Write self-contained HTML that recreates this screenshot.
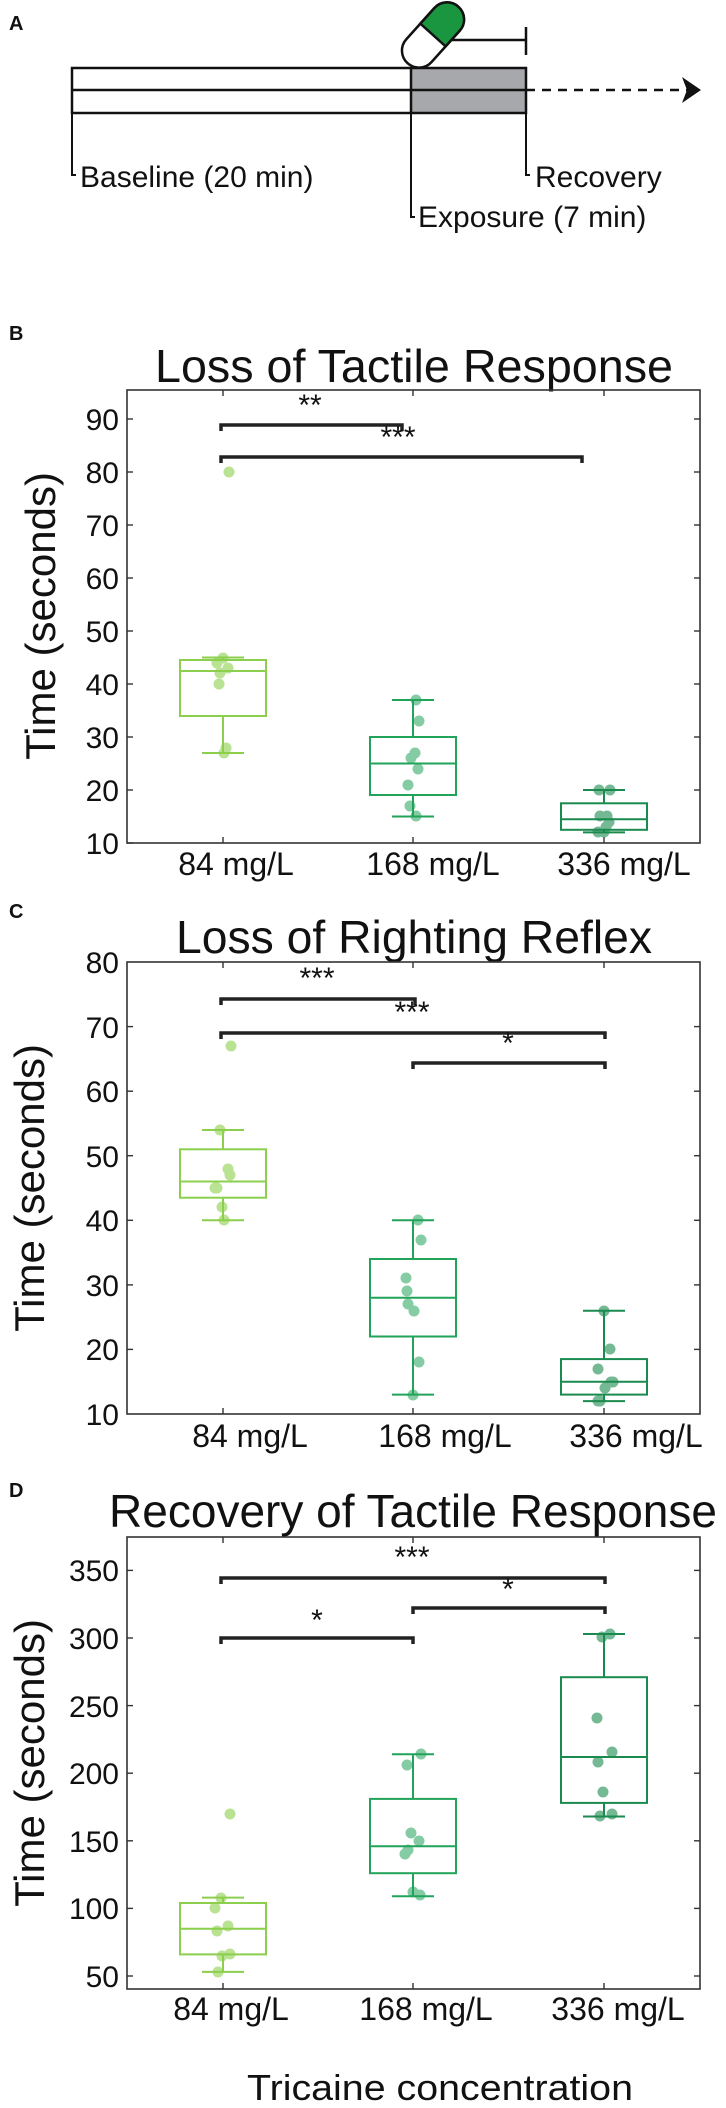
<!DOCTYPE html>
<html><head><meta charset="utf-8"><style>
html,body{margin:0;padding:0;background:#fff}
svg{display:block}
text{font-family:"Liberation Sans",Arial,sans-serif;fill:#111}
.ax{fill:none;stroke:#333;stroke-width:1.6}
.tk{stroke:#333;stroke-width:1.4}
.tl{font-size:30px;text-anchor:end}
.xl{font-size:32px;text-anchor:middle}
.ttl{font-size:46px;text-anchor:middle}
.yl{font-size:42px;text-anchor:middle}
.pl{font-size:20px;font-weight:bold}
.st{font-size:30px;text-anchor:middle}
.br{fill:none;stroke:#222;stroke-width:3.5}
.b1{fill:none;stroke:#8ccf4d;stroke-width:2}
.b2{fill:none;stroke:#22a35a;stroke-width:2}
.b3{fill:none;stroke:#1b8a4e;stroke-width:2}
.p1{fill:#8ccf4d;opacity:.6}
.p2{fill:#22a35a;opacity:.55}
.p3{fill:#1b8a4e;opacity:.6}
</style></head><body>
<svg width="726" height="2108" viewBox="0 0 726 2108" xmlns="http://www.w3.org/2000/svg">
<!-- Panel A -->
<text class="pl" x="9" y="30">A</text>
<rect x="411" y="68" width="115" height="45" fill="#a7a8ab"/>
<g stroke="#111" stroke-width="2.5" fill="none">
<rect x="72" y="68" width="454" height="45"/>
<line x1="72" y1="90" x2="526" y2="90"/>
<line x1="411" y1="68" x2="411" y2="113"/>
<line x1="526" y1="90" x2="690" y2="90" stroke-dasharray="9,7"/>
<polyline points="72,113 72,175 76,175" stroke-width="2"/>
<polyline points="411,113 411,217 415,217" stroke-width="2"/>
<polyline points="526,113 526,175 530,175" stroke-width="2"/>
<line x1="448" y1="40" x2="526" y2="40"/>
<line x1="526" y1="27" x2="526" y2="55"/>
</g>
<polygon points="701,90 682,77 687,90 682,103" fill="#111"/>
<g transform="translate(433,35) rotate(42)">
<rect x="-17" y="-38" width="34" height="76" rx="17" fill="#fff" stroke="#111" stroke-width="2.5"/>
<path d="M-17,0 L-17,-21 A17,17 0 0 1 17,-21 L17,0 Z" fill="#1a9641" stroke="#111" stroke-width="2.5"/>
</g>
<text x="80" y="187" style="font-size:30px">Baseline (20 min)</text>
<text x="535" y="187" style="font-size:30px">Recovery</text>
<text x="418" y="227" style="font-size:30px">Exposure (7 min)</text>

<!-- Panel B -->
<text class="pl" x="9" y="340">B</text>
<text class="ttl" x="414" y="382" textLength="518" lengthAdjust="spacingAndGlyphs">Loss of Tactile Response</text>
<rect class="ax" x="127" y="390" width="573" height="453"/>
<g class="tk">
<line x1="127" y1="843" x2="133" y2="843"/><line x1="127" y1="790" x2="133" y2="790"/><line x1="127" y1="737" x2="133" y2="737"/><line x1="127" y1="684" x2="133" y2="684"/><line x1="127" y1="631" x2="133" y2="631"/><line x1="127" y1="578" x2="133" y2="578"/><line x1="127" y1="525" x2="133" y2="525"/><line x1="127" y1="472" x2="133" y2="472"/><line x1="127" y1="419" x2="133" y2="419"/>
<line x1="694" y1="790" x2="700" y2="790"/><line x1="694" y1="737" x2="700" y2="737"/><line x1="694" y1="684" x2="700" y2="684"/><line x1="694" y1="631" x2="700" y2="631"/><line x1="694" y1="578" x2="700" y2="578"/><line x1="694" y1="525" x2="700" y2="525"/><line x1="694" y1="472" x2="700" y2="472"/><line x1="694" y1="419" x2="700" y2="419"/>
<line x1="223" y1="390" x2="223" y2="396"/><line x1="413" y1="390" x2="413" y2="396"/><line x1="604" y1="390" x2="604" y2="396"/>
<line x1="223" y1="843" x2="223" y2="837"/><line x1="413" y1="843" x2="413" y2="837"/><line x1="604" y1="843" x2="604" y2="837"/>
</g>
<g class="tl"><text x="119" y="854">10</text><text x="119" y="801">20</text><text x="119" y="748">30</text><text x="119" y="695">40</text><text x="119" y="642">50</text><text x="119" y="589">60</text><text x="119" y="536">70</text><text x="119" y="483">80</text><text x="119" y="430">90</text></g>
<g class="xl"><text x="236" y="875">84 mg/L</text><text x="433" y="875">168 mg/L</text><text x="624" y="875">336 mg/L</text></g>
<text class="yl" transform="translate(55,616) rotate(-90)">Time (seconds)</text>
<polyline class="br" points="221,431 221,425 402,425 402,431"/>
<polyline class="br" points="221,463 221,457 582,457 582,463"/>
<text class="st" x="310" y="415">**</text><text class="st" x="398" y="447">***</text>
<g class="b1"><rect x="180" y="660" width="86" height="56"/><line x1="180" y1="671" x2="266" y2="671"/><line x1="223" y1="716" x2="223" y2="753"/><line x1="202" y1="753" x2="244" y2="753"/><line x1="223" y1="660" x2="223" y2="657.5"/><line x1="202" y1="657.5" x2="244" y2="657.5"/></g>
<g class="p1"><circle cx="229" cy="472" r="5.5"/><circle cx="223" cy="658" r="5.5"/><circle cx="217" cy="663" r="5.5"/><circle cx="228" cy="668" r="5.5"/><circle cx="220" cy="673" r="5.5"/><circle cx="219" cy="684" r="5.5"/><circle cx="226" cy="748" r="5.5"/><circle cx="224" cy="753" r="5.5"/></g>
<g class="b2"><rect x="370" y="737" width="86" height="58"/><line x1="370" y1="763.5" x2="456" y2="763.5"/><line x1="413" y1="795" x2="413" y2="816.5"/><line x1="392" y1="816.5" x2="434" y2="816.5"/><line x1="413" y1="737" x2="413" y2="700"/><line x1="392" y1="700" x2="434" y2="700"/></g>
<g class="p2"><circle cx="416" cy="700" r="5.5"/><circle cx="419" cy="721" r="5.5"/><circle cx="415" cy="753" r="5.5"/><circle cx="411" cy="758" r="5.5"/><circle cx="418" cy="769" r="5.5"/><circle cx="408" cy="785" r="5.5"/><circle cx="410" cy="806" r="5.5"/><circle cx="416" cy="816" r="5.5"/></g>
<g class="b3"><rect x="561" y="803.3" width="86" height="26.5"/><line x1="561" y1="819.2" x2="647" y2="819.2"/><line x1="604" y1="829.8" x2="604" y2="832.4"/><line x1="583" y1="832.4" x2="625" y2="832.4"/><line x1="604" y1="803.3" x2="604" y2="790"/><line x1="583" y1="790" x2="625" y2="790"/></g>
<g class="p3"><circle cx="599" cy="790" r="5.5"/><circle cx="610" cy="790" r="5.5"/><circle cx="600" cy="816" r="5.5"/><circle cx="607" cy="816" r="5.5"/><circle cx="609" cy="822" r="5.5"/><circle cx="598" cy="832" r="5.5"/><circle cx="604" cy="832" r="5.5"/><circle cx="606" cy="827" r="5.5"/></g>

<!-- Panel C -->
<text class="pl" x="9" y="918">C</text>
<text class="ttl" x="414" y="953" textLength="476" lengthAdjust="spacingAndGlyphs">Loss of Righting Reflex</text>
<rect class="ax" x="127" y="962" width="573" height="452"/>
<g class="tk">
<line x1="127" y1="1349.4" x2="133" y2="1349.4"/><line x1="127" y1="1284.9" x2="133" y2="1284.9"/><line x1="127" y1="1220.3" x2="133" y2="1220.3"/><line x1="127" y1="1155.7" x2="133" y2="1155.7"/><line x1="127" y1="1091.2" x2="133" y2="1091.2"/><line x1="127" y1="1026.6" x2="133" y2="1026.6"/>
<line x1="694" y1="1349.4" x2="700" y2="1349.4"/><line x1="694" y1="1284.9" x2="700" y2="1284.9"/><line x1="694" y1="1220.3" x2="700" y2="1220.3"/><line x1="694" y1="1155.7" x2="700" y2="1155.7"/><line x1="694" y1="1091.2" x2="700" y2="1091.2"/><line x1="694" y1="1026.6" x2="700" y2="1026.6"/>
<line x1="223" y1="962" x2="223" y2="968"/><line x1="413" y1="962" x2="413" y2="968"/><line x1="604" y1="962" x2="604" y2="968"/>
<line x1="223" y1="1414" x2="223" y2="1408"/><line x1="413" y1="1414" x2="413" y2="1408"/><line x1="604" y1="1414" x2="604" y2="1408"/>
</g>
<g class="tl"><text x="119" y="1425">10</text><text x="119" y="1360">20</text><text x="119" y="1296">30</text><text x="119" y="1231">40</text><text x="119" y="1167">50</text><text x="119" y="1102">60</text><text x="119" y="1038">70</text><text x="119" y="973">80</text></g>
<g class="xl"><text x="250" y="1447">84 mg/L</text><text x="445" y="1447">168 mg/L</text><text x="636" y="1447">336 mg/L</text></g>
<text class="yl" transform="translate(44,1188) rotate(-90)">Time (seconds)</text>
<polyline class="br" points="221,1005 221,999 415,999 415,1005"/>
<polyline class="br" points="221,1039 221,1033 605,1033 605,1039"/>
<polyline class="br" points="413,1069 413,1063 605,1063 605,1069"/>
<text class="st" x="317" y="988">***</text><text class="st" x="412" y="1022">***</text><text class="st" x="508" y="1053">*</text>
<g class="b1"><rect x="180" y="1149.3" width="86" height="48.4"/><line x1="180" y1="1181.5" x2="266" y2="1181.5"/><line x1="223" y1="1197.7" x2="223" y2="1220.3"/><line x1="202" y1="1220.3" x2="244" y2="1220.3"/><line x1="223" y1="1149.3" x2="223" y2="1130"/><line x1="202" y1="1130" x2="244" y2="1130"/></g>
<g class="p1"><circle cx="231" cy="1046" r="5.5"/><circle cx="220" cy="1130" r="5.5"/><circle cx="228" cy="1169" r="5.5"/><circle cx="230" cy="1175" r="5.5"/><circle cx="215" cy="1188" r="5.5"/><circle cx="217" cy="1188" r="5.5"/><circle cx="222" cy="1207" r="5.5"/><circle cx="224" cy="1220" r="5.5"/></g>
<g class="b2"><rect x="370" y="1259" width="86" height="77.5"/><line x1="370" y1="1297.8" x2="456" y2="1297.8"/><line x1="413" y1="1336.5" x2="413" y2="1394.6"/><line x1="392" y1="1394.6" x2="434" y2="1394.6"/><line x1="413" y1="1259" x2="413" y2="1220.3"/><line x1="392" y1="1220.3" x2="434" y2="1220.3"/></g>
<g class="p2"><circle cx="418" cy="1220" r="5.5"/><circle cx="421" cy="1240" r="5.5"/><circle cx="406" cy="1278" r="5.5"/><circle cx="407" cy="1291" r="5.5"/><circle cx="408" cy="1304" r="5.5"/><circle cx="414" cy="1311" r="5.5"/><circle cx="419" cy="1362" r="5.5"/><circle cx="413" cy="1395" r="5.5"/></g>
<g class="b3"><rect x="561" y="1359.1" width="86" height="35.5"/><line x1="561" y1="1381.7" x2="647" y2="1381.7"/><line x1="604" y1="1394.6" x2="604" y2="1401.1"/><line x1="583" y1="1401.1" x2="625" y2="1401.1"/><line x1="604" y1="1359.1" x2="604" y2="1310.7"/><line x1="583" y1="1310.7" x2="625" y2="1310.7"/></g>
<g class="p3"><circle cx="604" cy="1311" r="5.5"/><circle cx="610" cy="1349" r="5.5"/><circle cx="598" cy="1369" r="5.5"/><circle cx="611" cy="1382" r="5.5"/><circle cx="613" cy="1382" r="5.5"/><circle cx="605" cy="1388" r="5.5"/><circle cx="598" cy="1401" r="5.5"/><circle cx="600" cy="1401" r="5.5"/></g>

<!-- Panel D -->
<text class="pl" x="9" y="1497">D</text>
<text class="ttl" x="413" y="1527" textLength="608" lengthAdjust="spacingAndGlyphs">Recovery of Tactile Response</text>
<rect class="ax" x="127" y="1537" width="573" height="452"/>
<g class="tk">
<line x1="127" y1="1976" x2="133" y2="1976"/><line x1="127" y1="1908.4" x2="133" y2="1908.4"/><line x1="127" y1="1840.8" x2="133" y2="1840.8"/><line x1="127" y1="1773.2" x2="133" y2="1773.2"/><line x1="127" y1="1705.6" x2="133" y2="1705.6"/><line x1="127" y1="1638" x2="133" y2="1638"/><line x1="127" y1="1570.4" x2="133" y2="1570.4"/>
<line x1="694" y1="1976" x2="700" y2="1976"/><line x1="694" y1="1908.4" x2="700" y2="1908.4"/><line x1="694" y1="1840.8" x2="700" y2="1840.8"/><line x1="694" y1="1773.2" x2="700" y2="1773.2"/><line x1="694" y1="1705.6" x2="700" y2="1705.6"/><line x1="694" y1="1638" x2="700" y2="1638"/><line x1="694" y1="1570.4" x2="700" y2="1570.4"/>
<line x1="223" y1="1537" x2="223" y2="1543"/><line x1="413" y1="1537" x2="413" y2="1543"/><line x1="604" y1="1537" x2="604" y2="1543"/>
<line x1="223" y1="1989" x2="223" y2="1983"/><line x1="413" y1="1989" x2="413" y2="1983"/><line x1="604" y1="1989" x2="604" y2="1983"/>
</g>
<g class="tl"><text x="119" y="1987">50</text><text x="119" y="1919">100</text><text x="119" y="1852">150</text><text x="119" y="1784">200</text><text x="119" y="1717">250</text><text x="119" y="1649">300</text><text x="119" y="1581">350</text></g>
<g class="xl"><text x="231" y="2020">84 mg/L</text><text x="426" y="2020">168 mg/L</text><text x="618" y="2020">336 mg/L</text></g>
<text class="yl" transform="translate(44,1763) rotate(-90)">Time (seconds)</text>
<text x="440" y="2100" style="font-size:36px;text-anchor:middle" textLength="386" lengthAdjust="spacingAndGlyphs">Tricaine concentration</text>
<polyline class="br" points="221,1584 221,1578 605,1578 605,1584"/>
<polyline class="br" points="413,1614 413,1608 605,1608 605,1614"/>
<polyline class="br" points="221,1644 221,1638 413,1638 413,1644"/>
<text class="st" x="412" y="1567">***</text><text class="st" x="508" y="1599">*</text><text class="st" x="317" y="1630">*</text>
<g class="b1"><rect x="180" y="1903" width="86" height="51.4"/><line x1="180" y1="1928.7" x2="266" y2="1928.7"/><line x1="223" y1="1954.4" x2="223" y2="1971.9"/><line x1="202" y1="1971.9" x2="244" y2="1971.9"/><line x1="223" y1="1903" x2="223" y2="1897.6"/><line x1="202" y1="1897.6" x2="244" y2="1897.6"/></g>
<g class="p1"><circle cx="230" cy="1814" r="5.5"/><circle cx="221" cy="1898" r="5.5"/><circle cx="215" cy="1908" r="5.5"/><circle cx="228" cy="1926" r="5.5"/><circle cx="217" cy="1931" r="5.5"/><circle cx="230" cy="1954" r="5.5"/><circle cx="222" cy="1956" r="5.5"/><circle cx="218" cy="1972" r="5.5"/></g>
<g class="b2"><rect x="370" y="1798.9" width="86" height="74.3"/><line x1="370" y1="1846.2" x2="456" y2="1846.2"/><line x1="413" y1="1873.2" x2="413" y2="1896.2"/><line x1="392" y1="1896.2" x2="434" y2="1896.2"/><line x1="413" y1="1798.9" x2="413" y2="1754.3"/><line x1="392" y1="1754.3" x2="434" y2="1754.3"/></g>
<g class="p2"><circle cx="421" cy="1754" r="5.5"/><circle cx="407" cy="1765" r="5.5"/><circle cx="411" cy="1833" r="5.5"/><circle cx="419" cy="1841" r="5.5"/><circle cx="408" cy="1850" r="5.5"/><circle cx="405" cy="1854" r="5.5"/><circle cx="413" cy="1892" r="5.5"/><circle cx="420" cy="1895" r="5.5"/></g>
<g class="b3"><rect x="561" y="1677.2" width="86" height="125.7"/><line x1="561" y1="1757" x2="647" y2="1757"/><line x1="604" y1="1802.9" x2="604" y2="1816.5"/><line x1="583" y1="1816.5" x2="625" y2="1816.5"/><line x1="604" y1="1677.2" x2="604" y2="1634"/><line x1="583" y1="1634" x2="625" y2="1634"/></g>
<g class="p3"><circle cx="610" cy="1634" r="5.5"/><circle cx="602" cy="1637" r="5.5"/><circle cx="597" cy="1718" r="5.5"/><circle cx="612" cy="1752" r="5.5"/><circle cx="598" cy="1762" r="5.5"/><circle cx="603" cy="1792" r="5.5"/><circle cx="612" cy="1814" r="5.5"/><circle cx="600" cy="1816" r="5.5"/></g>
</svg>
</body></html>
